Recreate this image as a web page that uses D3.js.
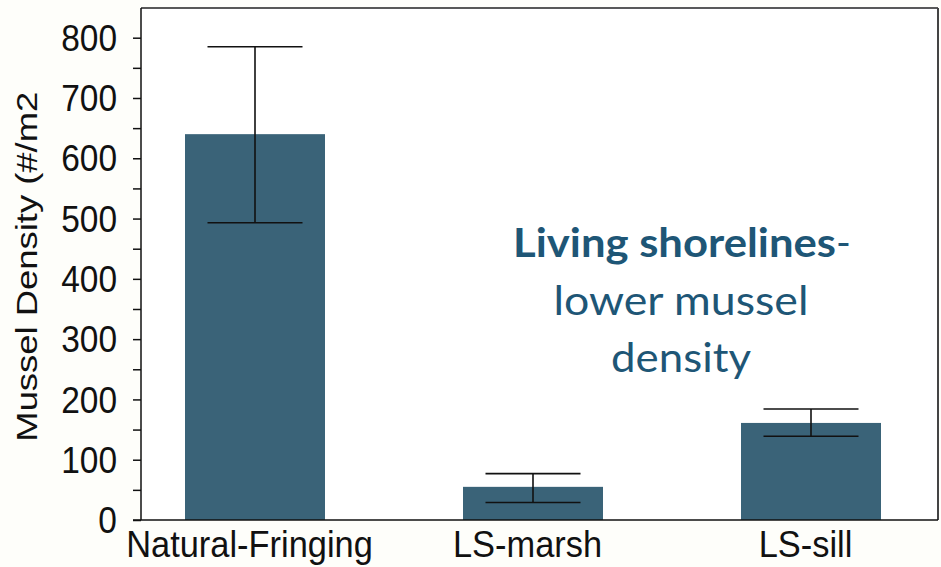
<!DOCTYPE html>
<html>
<head>
<meta charset="utf-8">
<script src="https://cdn.jsdelivr.net/npm/d3@7"></script>
<style>
  html, body { margin: 0; padding: 0; background: #fefefa; }
  svg { display: block; }
</style>
</head>
<body>
<svg id="chart" width="941" height="567"></svg>
<script>
const categories = ["Natural-Fringing", "LS-marsh", "LS-sill"];
const meanValues = [640, 55, 161];
const errLow = [493, 29, 139];
const errHigh = [785, 77, 184];
const yTicks = [0, 100, 200, 300, 400, 500, 600, 700, 800];
const yMinorTicks = [50, 150, 250, 350, 450, 550, 650, 750];
const yLabel = "Mussel Density (#/m2";
const noteBold = "Living shorelines";
const noteLines = ["lower mussel", "density"];

const svg = d3.select("#chart");
const plotL = 141, plotR = 938, plotT = 8, plotB = 520;

const y = d3.scaleLinear().domain([0, 800]).range([plotB, 37.7]);
const x = d3.scalePoint().domain(categories).range([255, 811]);
const barW = 140;
const capW = 95;

function condense(sel, f) {
  sel.each(function () {
    const len = this.getComputedTextLength();
    d3.select(this).attr("textLength", len * f).attr("lengthAdjust", "spacingAndGlyphs");
  });
}

// plot area
svg.append("rect").attr("x", plotL).attr("y", plotT).attr("width", plotR - plotL).attr("height", plotB - plotT)
  .attr("fill", "#ffffff");

// bars
svg.selectAll("rect.bar").data(categories).enter().append("rect")
  .attr("class", "bar")
  .attr("x", d => x(d) - barW / 2)
  .attr("width", barW)
  .attr("y", (d, i) => y(meanValues[i]))
  .attr("height", (d, i) => y(0) - y(meanValues[i]))
  .attr("fill", "#3a6378");

// error bars
const eb = svg.append("g").attr("stroke", "#111").attr("stroke-width", 1.6).attr("fill", "none");
categories.forEach((c, i) => {
  const cx = x(c);
  eb.append("line").attr("x1", cx).attr("x2", cx).attr("y1", y(errLow[i])).attr("y2", y(errHigh[i]));
  eb.append("line").attr("x1", cx - capW / 2).attr("x2", cx + capW / 2).attr("y1", y(errHigh[i])).attr("y2", y(errHigh[i]));
  eb.append("line").attr("x1", cx - capW / 2).attr("x2", cx + capW / 2).attr("y1", y(errLow[i])).attr("y2", y(errLow[i]));
});

// frame top and right
svg.append("line").attr("x1", plotL).attr("x2", plotR).attr("y1", plotT).attr("y2", plotT)
  .attr("stroke", "#222").attr("stroke-width", 1.5);
svg.append("line").attr("x1", plotR).attr("x2", plotR).attr("y1", plotT).attr("y2", plotB)
  .attr("stroke", "#444").attr("stroke-width", 2);

// y axis
const yAxis = d3.axisLeft(y).tickValues(yTicks).tickSize(8).tickPadding(16).tickFormat(d3.format("d"));
const gy = svg.append("g").attr("transform", `translate(${plotL},0)`).call(yAxis);
gy.select(".domain").attr("stroke", "#111").attr("stroke-width", 1.5).attr("d", `M0,${plotT}V${plotB}`);
gy.selectAll(".tick line").attr("stroke", "#111").attr("stroke-width", 1.5);
gy.selectAll(".tick text").attr("font-family", "Liberation Sans, Arial, sans-serif")
  .attr("font-size", 36).attr("fill", "#111").attr("dy", "0.35em");
condense(gy.selectAll(".tick text"), 0.93);
const yMinor = d3.axisLeft(y).tickValues(yMinorTicks).tickSize(8).tickFormat("");
const gym = svg.append("g").attr("transform", `translate(${plotL},0)`).call(yMinor);
gym.select(".domain").remove();
gym.selectAll(".tick line").attr("stroke", "#111").attr("stroke-width", 1.5);

// x axis
const xAxis = d3.axisBottom(x).tickSize(0).tickPadding(11);
const gx = svg.append("g").attr("transform", `translate(0,${plotB})`).call(xAxis);
gx.select(".domain").attr("stroke", "#111").attr("stroke-width", 1.5).attr("d", `M133,0H${plotR}`);
gx.selectAll(".tick text").attr("font-family", "Liberation Sans, Arial, sans-serif")
  .attr("font-size", 37).attr("fill", "#111").attr("dx", -6);
condense(gx.selectAll(".tick text"), 0.93);

// y label
svg.append("text")
  .attr("transform", "translate(37,266.7) rotate(-90)")
  .attr("text-anchor", "middle")
  .attr("font-family", "Liberation Sans, Arial, sans-serif")
  .attr("font-size", 30)
  .attr("fill", "#111")
  .attr("textLength", 350)
  .attr("lengthAdjust", "spacingAndGlyphs")
  .text(yLabel);

// annotation
const noteColor = "#1e5676";
const noteFont = "Lato, 'Open Sans', sans-serif";
const t1 = svg.append("text").attr("x", 513).attr("y", 256.7)
  .attr("font-family", noteFont).attr("font-size", 40).attr("fill", noteColor);
t1.append("tspan").attr("font-weight", "bold").attr("textLength", 323).attr("lengthAdjust", "spacingAndGlyphs").text(noteBold);
t1.append("tspan").attr("font-weight", "normal").text("-");

const lineY = [314.5, 371.5];
const lineW = [255, 140];
noteLines.forEach((s, i) => {
  svg.append("text").attr("x", 681).attr("y", lineY[i]).attr("text-anchor", "middle")
    .attr("font-family", noteFont).attr("font-size", 40).attr("fill", noteColor)
    .attr("textLength", lineW[i]).attr("lengthAdjust", "spacingAndGlyphs")
    .text(s);
});
</script>
</body>
</html>
